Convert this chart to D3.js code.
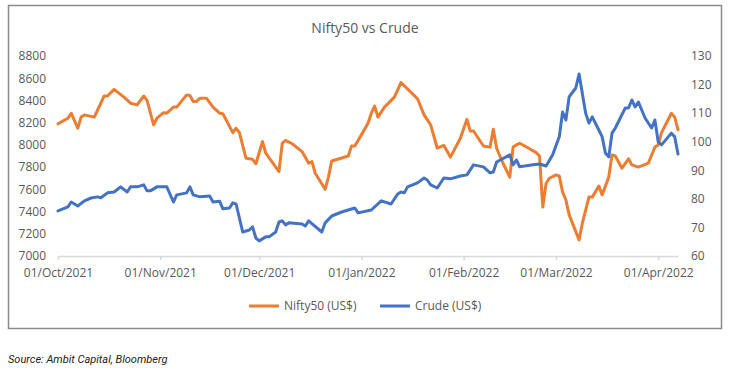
<!DOCTYPE html>
<html>
<head>
<meta charset="utf-8">
<script src="https://cdn.jsdelivr.net/npm/d3@7"></script>
<style>
  body { margin: 0; background: #fff; }
  text { font-family: "Open Sans", sans-serif; fill: #595959; }
</style>
</head>
<body>
<div id="d3-container"></div>
<script>
/**
 * CONSTANTS AND GLOBALS
 * */
const width = 740,
  height = 373,
  margin = { top: 56, bottom: 117, left: 58, right: 62 };

// series
const niftyDates = ["2021-10-01","2021-10-04","2021-10-05","2021-10-07","2021-10-08","2021-10-09","2021-10-12","2021-10-15","2021-10-16","2021-10-18",
  "2021-10-21","2021-10-23","2021-10-25","2021-10-27","2021-10-28","2021-10-30","2021-10-31","2021-11-02","2021-11-03","2021-11-05",
  "2021-11-06","2021-11-09","2021-11-10","2021-11-11","2021-11-12","2021-11-13","2021-11-15","2021-11-17","2021-11-19","2021-11-20",
  "2021-11-23","2021-11-24","2021-11-25","2021-11-27","2021-11-29","2021-11-30","2021-12-02","2021-12-03","2021-12-07","2021-12-08",
  "2021-12-09","2021-12-11","2021-12-14","2021-12-16","2021-12-17","2021-12-18","2021-12-21","2021-12-22","2021-12-23","2021-12-28",
  "2021-12-29","2021-12-30","2022-01-01","2022-01-03","2022-01-04","2022-01-05","2022-01-06","2022-01-08","2022-01-11","2022-01-13",
  "2022-01-16","2022-01-18","2022-01-20","2022-01-22","2022-01-24","2022-01-26","2022-01-28","2022-01-31","2022-02-02","2022-02-03",
  "2022-02-04","2022-02-07","2022-02-09","2022-02-10","2022-02-11","2022-02-13","2022-02-15","2022-02-16","2022-02-17","2022-02-18",
  "2022-02-21","2022-02-23","2022-02-24","2022-02-25","2022-02-26","2022-02-27","2022-03-01","2022-03-02","2022-03-03","2022-03-04",
  "2022-03-05","2022-03-08","2022-03-09","2022-03-11","2022-03-12","2022-03-14","2022-03-15","2022-03-17","2022-03-18","2022-03-19",
  "2022-03-21","2022-03-23","2022-03-24","2022-03-26","2022-03-29","2022-03-31","2022-04-01","2022-04-02","2022-04-05","2022-04-06",
  "2022-04-07"];
const niftyValues = [8190,8240,8285,8150,8250,8270,8250,8440,8440,8500,
  8430,8375,8360,8440,8400,8180,8240,8290,8285,8340,
  8340,8450,8445,8390,8390,8420,8420,8340,8285,8280,
  8110,8150,8110,7880,7870,7830,8030,7925,7760,8015,
  8040,8010,7940,7835,7850,7745,7600,7710,7855,7900,
  7990,7990,8090,8195,8285,8350,8250,8340,8430,8560,
  8475,8415,8270,8180,7970,7995,7890,8060,8230,8125,
  8125,7990,7980,8140,7970,7830,7710,7980,8000,8015,
  7965,7930,7900,7440,7655,7700,7730,7720,7575,7505,
  7370,7145,7295,7530,7530,7630,7550,7710,7910,7900,
  7790,7875,7820,7800,7835,7980,8000,8110,8285,8250,
  8135];

const crudeDates = ["2021-10-01","2021-10-04","2021-10-05","2021-10-07","2021-10-09","2021-10-11","2021-10-13","2021-10-14","2021-10-16","2021-10-18",
  "2021-10-20","2021-10-22","2021-10-23","2021-10-25","2021-10-27","2021-10-28","2021-10-29","2021-10-31","2021-11-03","2021-11-05",
  "2021-11-06","2021-11-09","2021-11-10","2021-11-11","2021-11-13","2021-11-16","2021-11-17","2021-11-19","2021-11-20","2021-11-22",
  "2021-11-23","2021-11-24","2021-11-26","2021-11-28","2021-11-29","2021-11-30","2021-12-01","2021-12-03","2021-12-04","2021-12-06",
  "2021-12-07","2021-12-08","2021-12-09","2021-12-10","2021-12-14","2021-12-15","2021-12-16","2021-12-20","2021-12-21","2021-12-23",
  "2021-12-26","2021-12-30","2021-12-31","2022-01-04","2022-01-07","2022-01-10","2022-01-12","2022-01-13","2022-01-14","2022-01-15",
  "2022-01-18","2022-01-20","2022-01-21","2022-01-22","2022-01-24","2022-01-26","2022-01-28","2022-01-31","2022-02-02","2022-02-04",
  "2022-02-07","2022-02-09","2022-02-10","2022-02-11","2022-02-15","2022-02-16","2022-02-17","2022-02-18","2022-02-22","2022-02-24",
  "2022-02-26","2022-02-28","2022-03-02","2022-03-03","2022-03-04","2022-03-05","2022-03-07","2022-03-08","2022-03-10","2022-03-11",
  "2022-03-12","2022-03-14","2022-03-15","2022-03-16","2022-03-17","2022-03-18","2022-03-19","2022-03-22","2022-03-23","2022-03-24",
  "2022-03-25","2022-03-26","2022-03-28","2022-03-30","2022-03-31","2022-04-01","2022-04-02","2022-04-05","2022-04-06","2022-04-07"];
const crudeValues = [75.8,77.2,78.9,77.5,79.3,80.3,80.7,80.4,82.1,82.4,
  84.2,82.4,84.2,84.2,84.9,82.8,82.8,84.2,84.2,78.9,
  81.4,82.1,84.2,81.4,80.7,81.0,78.9,79.2,76.5,76.8,
  78.6,78.2,68.4,69.1,70.2,66.3,65.3,66.7,66.7,68.4,
  71.9,72.3,70.9,71.6,71.2,70.5,72.3,68.4,71.6,74.0,
  75.4,76.8,75.1,76.1,79.3,78.2,81.7,82.4,82.1,84.2,
  85.6,87.3,86.6,84.9,83.8,87.3,87.0,88.0,88.4,91.9,
  91.2,89.1,89.4,92.9,95.4,91.9,93.6,91.2,91.9,92.2,
  91.5,95.4,101.7,110.4,107.6,115.7,118.8,123.7,110.0,106.5,
  108.7,104.1,101.7,96.0,94.7,103.0,104.8,111.8,111.8,114.6,
  112.2,113.9,108.3,104.8,107.6,99.9,98.9,103.0,101.7,95.7];

const monthTicks = ["2021-10-01","2021-11-01","2021-12-01","2022-01-01","2022-02-01","2022-03-01","2022-04-01"];
const leftTicks = [7000,7200,7400,7600,7800,8000,8200,8400,8600,8800];
const rightTicks = [60,70,80,90,100,110,120,130];

const seriesNames = ["Nifty50 (US$)", "Crude (US$)"];
const colors = ["#ED7D31", "#4472C4"];

const parse = d3.timeParse("%Y-%m-%d");
const fmt = d3.timeFormat("%d/%b/%Y");

const nifty = niftyDates.map((d, i) => ({ date: parse(d), value: niftyValues[i] }));
const crude = crudeDates.map((d, i) => ({ date: parse(d), value: crudeValues[i] }));

let svg;

init();

function init() {
  const x = d3.scaleTime()
    .domain([parse("2021-10-01"), parse("2022-04-07")])
    .range([margin.left, width - margin.right]);

  const yLeft = d3.scaleLinear()
    .domain([7000, 8800])
    .range([height - margin.bottom, margin.top]);

  const yRight = d3.scaleLinear()
    .domain([60, 130])
    .range([height - margin.bottom, margin.top]);

  svg = d3.select("#d3-container")
    .append("svg")
    .attr("width", width)
    .attr("height", height);

  // chart frame
  svg.append("rect")
    .attr("x", 8.5)
    .attr("y", 5.5)
    .attr("width", 713)
    .attr("height", 323)
    .attr("fill", "#fff")
    .attr("stroke", "#8a8a8a")
    .attr("stroke-width", 1.5);

  // title
  svg.append("text")
    .attr("x", 365)
    .attr("y", 33)
    .attr("text-anchor", "middle")
    .style("font-size", "14px")
    .text("Nifty50 vs Crude");

  // x axis
  const xAxis = svg.append("g")
    .attr("transform", `translate(0, ${height - margin.bottom})`)
    .call(d3.axisBottom(x)
      .tickValues(monthTicks.map(parse))
      .tickFormat(fmt)
      .tickSizeInner(4)
      .tickSizeOuter(0)
      .tickPadding(8));
  xAxis.select(".domain").attr("stroke", "#d9d9d9").attr("stroke-width", 1.5);
  xAxis.selectAll(".tick line").attr("stroke", "#d9d9d9").attr("stroke-width", 1.5);
  xAxis.selectAll(".tick text")
    .attr("fill", "#595959")
    .style("font-size", "12px")
    .style("font-family", "Open Sans");

  // left axis
  const leftAxis = svg.append("g")
    .attr("transform", `translate(${margin.left}, 0)`)
    .call(d3.axisLeft(yLeft).tickValues(leftTicks).tickFormat(d3.format("d")).tickSize(0).tickPadding(12));
  leftAxis.select(".domain").remove();
  leftAxis.selectAll(".tick text")
    .attr("fill", "#595959")
    .style("font-size", "12px")
    .style("font-family", "Open Sans");

  // right axis
  const rightAxis = svg.append("g")
    .attr("transform", `translate(${width - margin.right}, 0)`)
    .call(d3.axisRight(yRight).tickValues(rightTicks).tickSize(0).tickPadding(13));
  rightAxis.select(".domain").remove();
  rightAxis.selectAll(".tick text")
    .attr("fill", "#595959")
    .style("font-size", "12px")
    .style("font-family", "Open Sans");

  const lineLeft = d3.line().x(d => x(d.date)).y(d => yLeft(d.value));
  const lineRight = d3.line().x(d => x(d.date)).y(d => yRight(d.value));

  svg.append("path")
    .datum(nifty)
    .attr("fill", "none")
    .attr("stroke", colors[0])
    .attr("stroke-width", 3)
    .attr("stroke-linejoin", "round")
    .attr("stroke-linecap", "round")
    .attr("d", lineLeft);

  svg.append("path")
    .datum(crude)
    .attr("fill", "none")
    .attr("stroke", colors[1])
    .attr("stroke-width", 3)
    .attr("stroke-linejoin", "round")
    .attr("stroke-linecap", "round")
    .attr("d", lineRight);

  // legend
  const legend = svg.append("g")
    .selectAll("g")
    .data(seriesNames)
    .join("g")
    .attr("transform", (d, i) => `translate(${i === 0 ? 249 : 380}, 306)`);

  legend.append("line")
    .attr("x1", 0).attr("x2", 30)
    .attr("stroke", (d, i) => colors[i])
    .attr("stroke-width", 3);

  legend.append("text")
    .attr("x", 35)
    .attr("dy", "0.35em")
    .style("font-size", "12px")
    .text(d => d);

  // source note
  svg.append("text")
    .attr("x", 8)
    .attr("y", 363)
    .style("font-family", "Roboto, sans-serif")
    .style("font-style", "italic")
    .style("font-size", "11px")
    .style("fill", "#222")
    .text("Source: Ambit Capital, Bloomberg");
}
</script>
</body>
</html>
